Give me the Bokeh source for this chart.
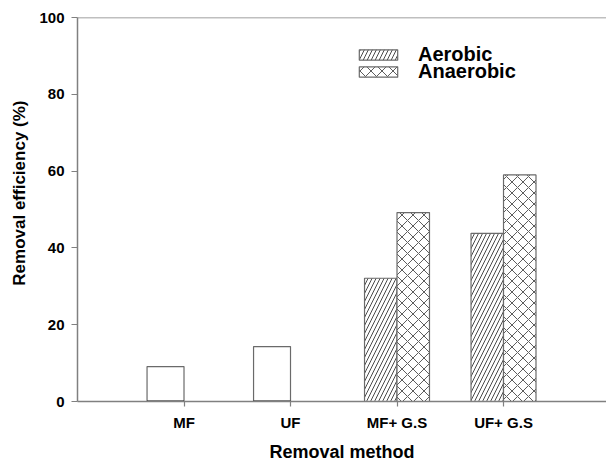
from bokeh.plotting import figure
from bokeh.models import (FixedTicker, Legend, LegendItem, Span, Title,
                          ColumnDataSource)
from bokeh.embed import file_html
from bokeh.resources import INLINE

# ---- data ----
categories = ["MF", "UF", "MF+ G.S", "UF+ G.S"]
control = [9.1, 14.3, 0, 0]          # plain (unhatched) bars
aerobic = [0, 0, 32.1, 43.8]
anaerobic = [0, 0, 49.2, 59.0]
y_ticks = [0, 20, 40, 60, 80, 100]

FONT = "Liberation Sans"
AXIS_COLOR = "#808080"
BAR_LINE = "#6a6a6a"
HATCH = "#4a4a4a"

pos = list(range(1, len(categories) + 1))

p = figure(width=606, height=464, x_range=(0, 4.967), y_range=(0, 100),
           output_backend="svg", toolbar_location=None,
           min_border_left=77, min_border_right=0, min_border_top=17,
           min_border_bottom=62)
p.outline_line_color = None
p.xgrid.visible = False
p.ygrid.visible = False
p.background_fill_color = "white"
p.border_fill_color = "white"

ctrl_w, hat_w = 0.347, 0.305
ctrl_src = ColumnDataSource(dict(
    x=[x - ctrl_w / 2 for x, v in zip(pos, control) if v > 0],
    left=[x - ctrl_w for x, v in zip(pos, control) if v > 0],
    right=[x for x, v in zip(pos, control) if v > 0],
    top=[v for v in control if v > 0]))
aer_src = ColumnDataSource(dict(
    x=[x - hat_w / 2 for x, v in zip(pos, aerobic) if v > 0],
    top=[v for v in aerobic if v > 0]))
ana_src = ColumnDataSource(dict(
    x=[x + hat_w / 2 for x, v in zip(pos, anaerobic) if v > 0],
    top=[v for v in anaerobic if v > 0]))

p.vbar(x="x", top="top", width=ctrl_w, bottom=0, source=ctrl_src,
       fill_color="white", line_color=BAR_LINE, line_width=1.2)
p.segment(x0="left", x1="right", y0=0, y1=0, source=ctrl_src,
          line_color="black", line_width=2)

r_aer = p.vbar(x="x", top="top", width=hat_w, bottom=0, source=aer_src,
               fill_color="white", line_color=BAR_LINE, line_width=1.2,
               hatch_pattern="right_diagonal_line", hatch_scale=8,
               hatch_color=HATCH, hatch_weight=1)
r_ana = p.vbar(x="x", top="top", width=hat_w, bottom=0, source=ana_src,
               fill_color="white", line_color=BAR_LINE, line_width=1.2,
               hatch_pattern="diagonal_cross", hatch_scale=11,
               hatch_color=HATCH, hatch_weight=0.9)

# top frame line
p.add_layout(Span(location=100, dimension="width", line_color=AXIS_COLOR,
                  line_width=1.5))

# axes
for ax in (p.xaxis[0], p.yaxis[0]):
    ax.axis_line_color = AXIS_COLOR
    ax.axis_line_width = 1.5
    ax.major_tick_line_color = AXIS_COLOR
    ax.major_tick_line_width = 1.2
    ax.major_tick_in = 0
    ax.minor_tick_line_color = None
    ax.major_label_text_font = FONT
    ax.major_label_text_font_size = "15px"
    ax.major_label_text_font_style = "bold"
    ax.major_label_text_color = "black"

p.xaxis.ticker = FixedTicker(ticks=pos)
p.xaxis.major_label_overrides = {x: c for x, c in zip(pos, categories)}
p.xaxis.major_tick_out = 5
p.xaxis.major_label_standoff = 7
p.xaxis.axis_label = "Removal method"
p.xaxis.axis_label_text_font = FONT
p.xaxis.axis_label_text_font_size = "18px"
p.xaxis.axis_label_text_font_style = "bold"
p.xaxis.axis_label_text_color = "black"
p.xaxis.axis_label_standoff = 8

p.yaxis.ticker = FixedTicker(ticks=y_ticks)
p.yaxis.major_tick_out = 6
p.yaxis.major_label_standoff = 7

p.add_layout(Title(text="Removal efficiency (%)", align="right", offset=83,
                   vertical_align="top",
                   text_font=FONT, text_font_size="17px",
                   text_font_style="bold", text_color="black",
                   standoff=12), "left")


def one_legend(label, renderer, y):
    return Legend(items=[LegendItem(label=label, renderers=[renderer])],
                  location=(277, y), glyph_width=48, glyph_height=13,
                  label_text_font=FONT, label_text_font_size="20px",
                  label_text_font_style="bold", label_text_color="black",
                  padding=0, margin=0, border_line_color=None,
                  background_fill_alpha=0, label_standoff=16,
                  label_height=13)


p.add_layout(one_legend("Aerobic", r_aer, 335))
p.add_layout(one_legend("Anaerobic", r_ana, 318))

open("out.html", "w").write(file_html(p, INLINE))
